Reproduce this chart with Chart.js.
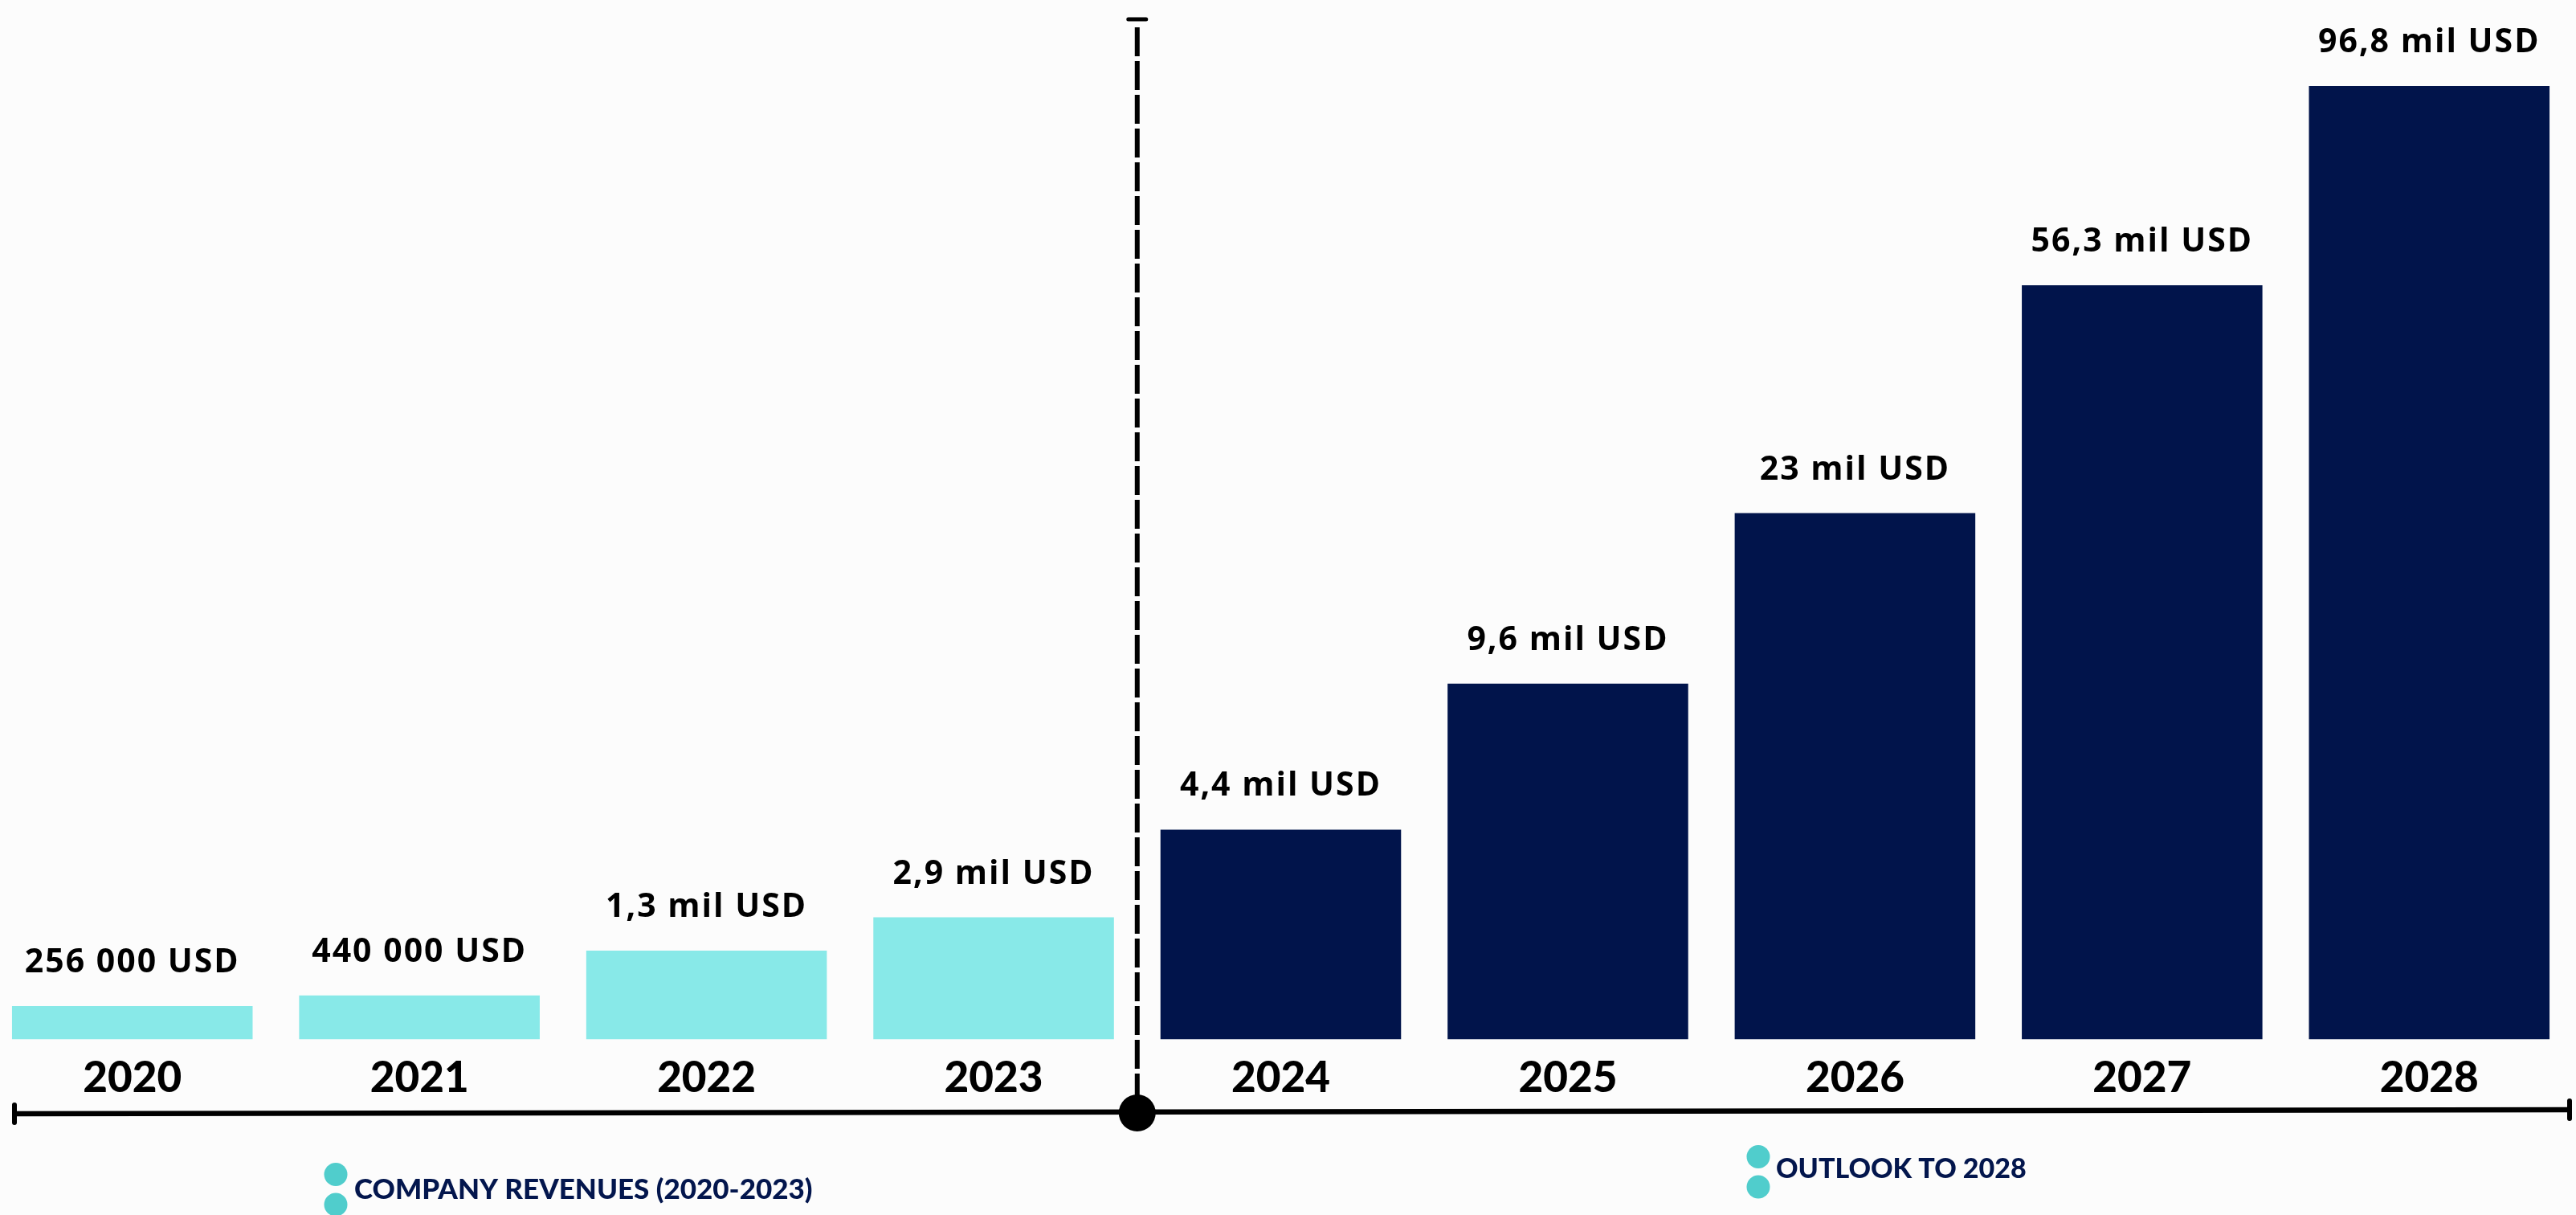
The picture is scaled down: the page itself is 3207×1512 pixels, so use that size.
<!DOCTYPE html>
<html>
<head>
<meta charset="utf-8">
<script src="https://cdn.jsdelivr.net/npm/chart.js@4.4.1/dist/chart.umd.min.js"></script>
<style>
    html, body { margin: 0; padding: 0; background: #fcfcfc; }
    #wrap { position: relative; width: 3207px; height: 1512px; overflow: hidden; }
    #chart { position: absolute; left: -14px; top: 0; }
</style>
</head>
<body>
<div id="wrap"><canvas id="chart" width="3221" height="1512"></canvas></div>
<script>
// Years on the timeline
const years = ["2020", "2021", "2022", "2023", "2024", "2025", "2026", "2027", "2028"];
// Labels written over each bar
const revenueLabels = [
    "256 000 USD", "440 000 USD", "1,3 mil USD", "2,9 mil USD",
    "4,4 mil USD", "9,6 mil USD", "23 mil USD", "56,3 mil USD", "96,8 mil USD",
];
// Bars in the picture are not to scale: heights read off it, % of the tallest bar
const barHeights = [3.5, 4.6, 9.3, 12.8, 22.0, 37.3, 55.2, 79.1, 100];
// How many of the years are actual revenue (the rest is the outlook)
const actualCount = 4;
const seriesNames = ["COMPANY REVENUES (2020-2023)", "OUTLOOK TO 2028"];

const actualData = barHeights.map((v, i) => (i < actualCount ? v : null));
const outlookData = barHeights.map((v, i) => (i >= actualCount ? v : null));

const OFFSET = 14; // canvas is shifted left by this much

// values over the bars
const valueLabels = {
    id: "valueLabels",
    afterDatasetsDraw(chart) {
        const ctx = chart.ctx;
        ctx.save();
        ctx.font = "bold 41px 'Open Sans'";
        ctx.letterSpacing = "2px";
        ctx.fillStyle = "#000";
        ctx.textAlign = "center";
        ctx.textBaseline = "alphabetic";
        chart.data.datasets.forEach((ds, di) => {
            const meta = chart.getDatasetMeta(di);
            meta.data.forEach((bar, i) => {
                if (ds.data[i] === null) return;
                ctx.fillText(revenueLabels[i], bar.x, bar.y - 42);
            });
        });
        ctx.restore();
    },
};

// timeline, divider and legend
const timeline = {
    id: "timeline",
    afterDraw(chart) {
        const ctx = chart.ctx;
        const xs = chart.scales.x;
        const divX = (xs.getPixelForValue(actualCount - 1) + xs.getPixelForValue(actualCount)) / 2;
        const x0 = 18 + OFFSET, x1 = 3199 + OFFSET;
        ctx.save();

        // horizontal axis line
        ctx.strokeStyle = "#000";
        ctx.lineWidth = 6.5;
        ctx.beginPath();
        ctx.moveTo(x0, 1386);
        ctx.lineTo(x1, 1381);
        ctx.stroke();
        // end caps
        ctx.lineCap = "round";
        ctx.lineWidth = 6;
        ctx.beginPath();
        ctx.moveTo(x0, 1375); ctx.lineTo(x0, 1397);
        ctx.moveTo(x1, 1370); ctx.lineTo(x1, 1392);
        ctx.stroke();

        // dashed divider
        ctx.lineCap = "butt";
        ctx.setLineDash([36, 6]);
        ctx.beginPath();
        ctx.moveTo(divX, 34);
        ctx.lineTo(divX, 1385);
        ctx.stroke();
        ctx.setLineDash([]);
        ctx.lineCap = "round";
        ctx.lineWidth = 5;
        ctx.beginPath();
        ctx.moveTo(divX - 11, 24);
        ctx.lineTo(divX + 11, 24);
        ctx.stroke();
        ctx.fillStyle = "#000";
        ctx.beginPath();
        ctx.arc(divX, 1385, 23, 0, Math.PI * 2);
        ctx.fill();

        // legend items: two dots and a title
        const items = [
            { dotX: 418, dotY: 1461.5, textX: 441, textY: 1492, size: 35 },
            { dotX: 2189, dotY: 1439.5, textX: 2211, textY: 1466, size: 34 },
        ];
        items.forEach((it, k) => {
            ctx.fillStyle = "#50cdcc";
            [0, 37.5].forEach((dy) => {
                ctx.beginPath();
                ctx.ellipse(it.dotX + OFFSET, it.dotY + dy, 14.5, 14.5, 0, 0, Math.PI * 2);
                ctx.fill();
            });
            ctx.fillStyle = "#03164d";
            ctx.font = "900 " + it.size + "px Lato";
            ctx.textAlign = "left";
            ctx.textBaseline = "alphabetic";
            ctx.fillText(seriesNames[k], it.textX + OFFSET, it.textY);
        });
        ctx.restore();
    },
};

new Chart(document.getElementById("chart"), {
    type: "bar",
    data: {
        labels: years,
        datasets: [
            {
                label: seriesNames[0],
                data: actualData,
                backgroundColor: "#88e9e8",
                grouped: false,
            },
            {
                label: seriesNames[1],
                data: outlookData,
                backgroundColor: "#01144b",
                grouped: false,
            },
        ],
    },
    options: {
        responsive: false,
        animation: false,
        layout: { padding: { left: 0, right: 4, top: 107, bottom: 121 } },
        datasets: { bar: { barPercentage: 1, categoryPercentage: 0.838 } },
        plugins: { legend: { display: false }, tooltip: { enabled: false } },
        scales: {
            x: {
                grid: { display: false, drawTicks: false },
                border: { display: false },
                ticks: {
                    color: "#000",
                    padding: 17,
                    font: { family: "Lato", size: 53, weight: "900" },
                },
            },
            y: { display: false, min: 0, max: 100 },
        },
    },
    plugins: [valueLabels, timeline],
});
</script>
</body>
</html>
